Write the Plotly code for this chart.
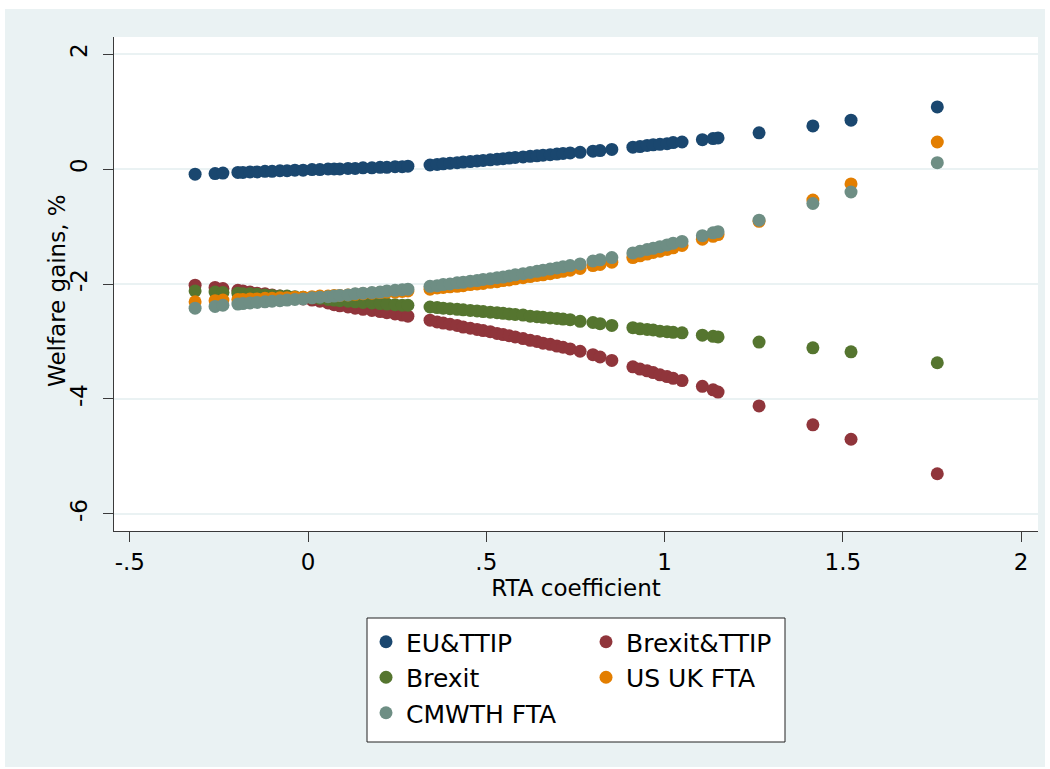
import plotly.graph_objects as go

# RTA coefficient (shared x for all scenarios)
rta = [-0.317, -0.261, -0.239, -0.197, -0.183, -0.163, -0.143, -0.121, -0.101, -0.079,
       -0.059, -0.037, -0.014, 0.011, 0.033, 0.056, 0.073, 0.089, 0.112, 0.132,
       0.154, 0.179, 0.202, 0.221, 0.244, 0.264, 0.280, 0.342, 0.362, 0.379,
       0.398, 0.418, 0.435, 0.455, 0.474, 0.491, 0.511, 0.530, 0.547, 0.564,
       0.581, 0.603, 0.623, 0.642, 0.659, 0.679, 0.698, 0.715, 0.735, 0.763,
       0.799, 0.819, 0.852, 0.911, 0.931, 0.951, 0.968, 0.987, 1.007, 1.024,
       1.049, 1.106, 1.136, 1.150, 1.265, 1.416, 1.523, 1.765]

eu_ttip = [-0.09, -0.08, -0.07, -0.06, -0.06, -0.05, -0.05, -0.04, -0.04, -0.03,
           -0.03, -0.02, -0.02, -0.01, -0.01, 0.00, 0.00, 0.00, 0.01, 0.01,
           0.02, 0.02, 0.03, 0.03, 0.04, 0.04, 0.05, 0.07, 0.08, 0.09,
           0.10, 0.11, 0.12, 0.13, 0.14, 0.15, 0.16, 0.17, 0.18, 0.19,
           0.20, 0.21, 0.22, 0.23, 0.24, 0.25, 0.26, 0.27, 0.28, 0.29,
           0.31, 0.32, 0.34, 0.38, 0.39, 0.41, 0.42, 0.43, 0.44, 0.46,
           0.47, 0.51, 0.53, 0.54, 0.63, 0.75, 0.85, 1.08]

brexit_ttip = [-2.02, -2.06, -2.08, -2.11, -2.12, -2.14, -2.16, -2.17, -2.19, -2.21,
               -2.22, -2.24, -2.26, -2.28, -2.30, -2.33, -2.36, -2.38, -2.40, -2.42,
               -2.44, -2.46, -2.48, -2.50, -2.52, -2.54, -2.56, -2.63, -2.66, -2.68,
               -2.70, -2.72, -2.75, -2.77, -2.79, -2.81, -2.83, -2.86, -2.88, -2.90,
               -2.92, -2.95, -2.98, -3.00, -3.03, -3.05, -3.08, -3.10, -3.13, -3.17,
               -3.23, -3.27, -3.33, -3.44, -3.48, -3.51, -3.54, -3.58, -3.61, -3.64,
               -3.68, -3.78, -3.84, -3.88, -4.12, -4.45, -4.70, -5.30]

brexit = [-2.12, -2.14, -2.15, -2.16, -2.17, -2.17, -2.18, -2.19, -2.20, -2.21,
          -2.21, -2.22, -2.23, -2.24, -2.25, -2.27, -2.28, -2.29, -2.30, -2.31,
          -2.32, -2.33, -2.34, -2.35, -2.36, -2.37, -2.37, -2.40, -2.41, -2.42,
          -2.43, -2.44, -2.45, -2.46, -2.47, -2.48, -2.49, -2.50, -2.51, -2.52,
          -2.53, -2.54, -2.56, -2.57, -2.58, -2.59, -2.60, -2.61, -2.62, -2.65,
          -2.67, -2.69, -2.72, -2.76, -2.78, -2.79, -2.80, -2.82, -2.83, -2.84,
          -2.85, -2.89, -2.91, -2.92, -3.01, -3.11, -3.18, -3.37]

us_uk_fta = [-2.31, -2.29, -2.28, -2.27, -2.27, -2.26, -2.26, -2.25, -2.25, -2.24,
             -2.24, -2.23, -2.23, -2.22, -2.21, -2.21, -2.20, -2.20, -2.19, -2.18,
             -2.17, -2.16, -2.15, -2.14, -2.14, -2.13, -2.12, -2.09, -2.07, -2.06,
             -2.05, -2.04, -2.03, -2.01, -2.00, -1.99, -1.97, -1.96, -1.94, -1.93,
             -1.91, -1.89, -1.87, -1.85, -1.84, -1.82, -1.80, -1.78, -1.76, -1.73,
             -1.68, -1.66, -1.62, -1.54, -1.51, -1.48, -1.45, -1.43, -1.40, -1.37,
             -1.33, -1.22, -1.17, -1.14, -0.91, -0.54, -0.26, 0.47]

cmwth_fta = [-2.42, -2.39, -2.37, -2.35, -2.34, -2.33, -2.32, -2.31, -2.30, -2.29,
             -2.28, -2.27, -2.26, -2.24, -2.23, -2.22, -2.21, -2.20, -2.19, -2.17,
             -2.16, -2.15, -2.14, -2.12, -2.11, -2.10, -2.09, -2.04, -2.03, -2.01,
             -2.00, -1.98, -1.97, -1.95, -1.94, -1.92, -1.91, -1.89, -1.88, -1.86,
             -1.84, -1.82, -1.80, -1.78, -1.76, -1.74, -1.72, -1.70, -1.68, -1.65,
             -1.60, -1.58, -1.54, -1.46, -1.43, -1.40, -1.38, -1.35, -1.32, -1.29,
             -1.26, -1.16, -1.11, -1.09, -0.89, -0.60, -0.40, 0.11]

x_ticks = [-0.5, 0, 0.5, 1, 1.5, 2]
x_ticktext = ["-.5", "0", ".5", "1", "1.5", "2"]
y_ticks = [-6, -4, -2, 0, 2]
y_ticktext = ["-6", "-4", "-2", "0", "2"]

# (name, values, colour, legend column)
series = [
    ("EU&TTIP", eu_ttip, "#1A476F", "legend"),
    ("Brexit&TTIP", brexit_ttip, "#90353B", "legend2"),
    ("Brexit", brexit, "#55752F", "legend"),
    ("US UK FTA", us_uk_fta, "#E37E00", "legend2"),
    ("CMWTH FTA", cmwth_fta, "#6E8E84", "legend"),
]

W, H = 1050, 769
ML, MR, MT, MB = 114, 12, 37, 238
PW, PH = W - ML - MR, H - MT - MB
FONT = "DejaVu Sans"
PANEL = "#EAF2F3"
AXIS = "#3a3a3a"


def px_x(p):
    return (p - ML) / PW


def px_y(p):
    return (H - MB - p) / PH


fig = go.Figure()
for name, vals, col, leg in series:
    fig.add_trace(go.Scatter(
        x=rta, y=vals, mode="markers", name=name, legend=leg,
        marker=dict(color=col, size=13, line=dict(width=0)),
    ))

shapes = [
    # white border around the graph region
    dict(type="rect", xref="paper", yref="paper", x0=px_x(-5), x1=px_x(W + 5),
         y0=px_y(9), y1=px_y(-5), fillcolor="white", line_width=0, layer="below"),
    dict(type="rect", xref="paper", yref="paper", x0=px_x(-5), x1=px_x(5),
         y0=px_y(H + 5), y1=px_y(-5), fillcolor="white", line_width=0, layer="below"),
    dict(type="rect", xref="paper", yref="paper", x0=px_x(1045), x1=px_x(W + 5),
         y0=px_y(H + 5), y1=px_y(-5), fillcolor="white", line_width=0, layer="below"),
    dict(type="rect", xref="paper", yref="paper", x0=px_x(-5), x1=px_x(W + 5),
         y0=px_y(H + 5), y1=px_y(767), fillcolor="white", line_width=0, layer="below"),
    # legend frame
    dict(type="rect", xref="paper", yref="paper", x0=px_x(367), x1=px_x(785),
         y0=px_y(742), y1=px_y(618), fillcolor="white",
         line=dict(color="#222222", width=1), layer="above"),
]

legend_common = dict(
    orientation="v", xanchor="left", yanchor="top",
    bgcolor="rgba(0,0,0,0)", borderwidth=0,
    font=dict(family=FONT, size=25, color="black"),
    tracegroupgap=0, itemclick=False, itemdoubleclick=False,
)

fig.update_layout(
    width=W, height=H,
    margin=dict(l=ML, r=MR, t=MT, b=MB, autoexpand=False),
    paper_bgcolor=PANEL, plot_bgcolor="white",
    font=dict(family=FONT, size=23, color="black"),
    showlegend=True,
    legend=dict(x=px_x(366), y=px_y(619), **legend_common),
    legend2=dict(x=px_x(586), y=px_y(619), **legend_common),
    shapes=shapes,
    annotations=[dict(
        text="Welfare gains, %", xref="paper", yref="paper",
        x=px_x(57), y=px_y(291), xanchor="center", yanchor="middle",
        textangle=-90, showarrow=False, font=dict(family=FONT, size=23),
    )],
    xaxis=dict(
        range=[-0.5445, 2.0475], tickvals=x_ticks, ticktext=x_ticktext,
        showgrid=False, zeroline=False, showline=True, linecolor=AXIS, linewidth=1,
        ticks="outside", ticklen=10, tickwidth=1, tickcolor=AXIS,
        tickfont=dict(family=FONT, size=23), mirror=False,
        title=dict(text="RTA coefficient", font=dict(family=FONT, size=23), standoff=4),
    ),
    yaxis=dict(
        range=[-6.296, 2.296], tickvals=y_ticks, ticktext=y_ticktext,
        showgrid=True, gridcolor=PANEL, gridwidth=2, zeroline=False,
        showline=True, linecolor=AXIS, linewidth=1,
        ticks="outside", ticklen=10, tickwidth=1, tickcolor=AXIS, tickangle=-90,
        ticklabelstandoff=7, tickfont=dict(family=FONT, size=23),
    ),
)

fig.write_html("out.html")
